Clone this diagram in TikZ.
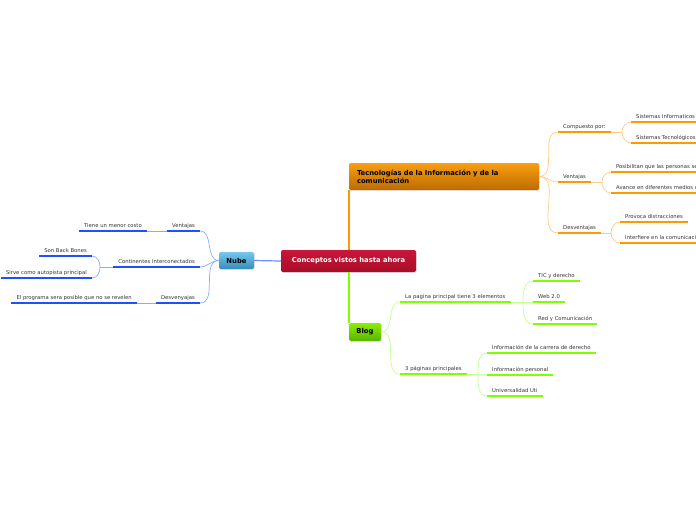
\documentclass[tikz,border=0pt]{standalone}
\usepackage{fontspec}
\setmainfont{DejaVu Sans}
\usetikzlibrary{positioning,shadows}

\definecolor{redtop}{HTML}{C8163A}
\definecolor{redbot}{HTML}{A80E28}
\definecolor{nubetop}{HTML}{74C8EE}
\definecolor{nubebot}{HTML}{3A8CB8}
\definecolor{tictop}{HTML}{F99E10}
\definecolor{ticbot}{HTML}{BC6C00}
\definecolor{blogtop}{HTML}{8AF000}
\definecolor{blogbot}{HTML}{58B400}
\definecolor{nubeline}{HTML}{1E50FF}
\definecolor{nubelite}{HTML}{8CAAFF}
\definecolor{ticline}{HTML}{FF9900}
\definecolor{ticlite}{HTML}{FFCC88}
\definecolor{blogline}{HTML}{80FF00}
\definecolor{bloglite}{HTML}{C4FF90}
\definecolor{textgray}{HTML}{333333}

\tikzset{
  box/.style={rounded corners=2pt, inner sep=0pt,
    font=\fontsize{6.8}{8}\selectfont\bfseries,
    drop shadow={opacity=0.3, shadow xshift=0.7pt, shadow yshift=-0.7pt}},
  topic/.style={font=\fontsize{5.3}{6}\selectfont, text=textgray,
    inner xsep=5pt, inner ysep=2.4pt, text height=3.9pt, text depth=1.1pt},
  ltopic/.style={topic, anchor=south east},
  rtopic/.style={topic, anchor=south west},
  nubebar/.style={draw=nubeline, line width=2.6pt},
  ticbar/.style={draw=ticline, line width=2.6pt},
  blogbar/.style={draw=blogline, line width=2.6pt},
  nubethin/.style={draw=nubelite, line width=0.7pt},
  ticthin/.style={draw=ticlite, line width=0.7pt},
  blogthin/.style={draw=bloglite, line width=0.7pt},
}

\begin{document}
\begin{tikzpicture}[x=1pt,y=1pt]
\clip (0,0) rectangle (696,-520);
% central topic
\node[box, top color=redtop, bottom color=redbot, text=white,
  minimum width=135pt, minimum height=22pt] (cpt) at (348.5,-261) {Conceptos vistos hasta ahora};

% nube
\node[box, top color=nubetop, bottom color=nubebot,
  minimum width=35pt, minimum height=17pt] (nube) at (236.5,-260.5) {Nube};
\node[ltopic] (nv) at (200,-231) {Ventajas};
\node[ltopic] (nvt) at (147,-231) {Tiene un menor costo};
\node[ltopic] (nc) at (200,-267) {Continentes Interconectados};
\node[ltopic] (ncb) at (92,-256) {Son Back Bones};
\node[ltopic] (ncs) at (92,-278) {Sirve como autopista principal};
\node[ltopic] (nd) at (200,-303) {Desvenyajas};
\node[ltopic] (ndp) at (137,-303) {El programa sera posible que no se revelen};
\coordinate (ncj) at (100,-267);

% tic
\node[box, top color=tictop, bottom color=ticbot, text width=174pt, align=left,
  inner xsep=8pt, minimum height=27pt] (tic) at (444,-176.5)
  {Tecnologías de la Información y de la\\comunicación};
\node[rtopic] (tc) at (558,-132) {Compuesto por:};
\node[rtopic] (tci) at (631,-122) {Sistemas Informaticos};
\node[rtopic] (tct) at (631,-143) {Sistemas Tecnológicos};
\node[rtopic] (tv) at (558,-182) {Ventajas};
\node[rtopic] (tvp) at (611,-172) {Posibilitan que las personas se comuniquen};
\node[rtopic] (tva) at (611,-193) {Avance en diferentes medios de comunicación};
\node[rtopic] (td) at (558,-233) {Desventajas};
\node[rtopic] (tdp) at (620,-222) {Provoca distracciones};
\node[rtopic] (tdi) at (620,-243) {Interfiere en la comunicación};
\coordinate (tcj) at (622,-132);
\coordinate (tvj) at (602,-182);
\coordinate (tdj) at (611,-233);

% blog
\node[box, top color=blogtop, bottom color=blogbot,
  minimum width=32pt, minimum height=18pt] (blog) at (365,-332) {Blog};
\node[rtopic] (bp) at (400,-302) {La pagina principal tiene 3 elementos};
\node[rtopic] (bpt) at (533,-281) {TIC y derecho};
\node[rtopic] (bpw) at (533,-302) {Web 2.0};
\node[rtopic] (bpr) at (533,-324) {Red y Comunicación};
\node[rtopic] (bt) at (400,-374) {3 páginas principales};
\node[rtopic] (btc) at (487,-353) {Información de la carrera de derecho};
\node[rtopic] (btp) at (487,-375) {Información personal};
\node[rtopic] (btu) at (487,-396) {Universalidad Uti};
\coordinate (bpj) at (523,-302);
\coordinate (btj) at (478,-374);

% main links
\draw[draw=nubelite!70!nubeline, line width=1.2pt] (cpt.west) -- (nube.east);
\draw[draw=ticline, line width=1.5pt] (tic.south west) ++(0.2,0) -- +(0,-60);
\draw[draw=blogline, line width=1.8pt] (blog.north west) ++(0.2,0) -- +(0,51);

% fans
\foreach \n in {nv,nc,nd} \draw[nubethin] (nube.west) to[out=180,in=0] (\n.south east);
\foreach \n in {tc,tv,td} \draw[ticthin] (tic.east) to[out=0,in=180] (\n.south west);
\foreach \n in {bp,bt} \draw[blogthin] (blog.east) to[out=0,in=180] (\n.south west);

\draw[nubethin] (nv.south west) -- (nvt.south east);
\draw[nubethin] (nd.south west) -- (ndp.south east);
\draw[nubethin] (nc.south west) -- (ncj);
\draw[nubethin] (ncj) to[out=90,in=0] (ncb.south east);
\draw[nubethin] (ncj) to[out=-90,in=0] (ncs.south east);

\draw[ticthin] (tc.south east) -- (tcj);
\draw[ticthin] (tcj) to[out=90,in=180] (tci.south west);
\draw[ticthin] (tcj) to[out=-90,in=180] (tct.south west);
\draw[ticthin] (tv.south east) -- (tvj);
\draw[ticthin] (tvj) to[out=90,in=180] (tvp.south west);
\draw[ticthin] (tvj) to[out=-90,in=180] (tva.south west);
\draw[ticthin] (td.south east) -- (tdj);
\draw[ticthin] (tdj) to[out=90,in=180] (tdp.south west);
\draw[ticthin] (tdj) to[out=-90,in=180] (tdi.south west);

\draw[blogthin] (bp.south east) -- (bpj);
\draw[blogthin] (bpj) to[out=90,in=180] (bpt.south west);
\draw[blogthin] (bpj) -- (bpw.south west);
\draw[blogthin] (bpj) to[out=-90,in=180] (bpr.south west);
\draw[blogthin] (bt.south east) -- (btj);
\draw[blogthin] (btj) to[out=90,in=180] (btc.south west);
\draw[blogthin] (btj) -- (btp.south west);
\draw[blogthin] (btj) to[out=-90,in=180] (btu.south west);

% underlines
\foreach \n in {nv,nvt,nc,ncb,ncs,nd,ndp} \draw[nubebar] (\n.south west) -- (\n.south east);
\foreach \n in {tc,tci,tct,tv,tvp,tva,td,tdp,tdi} \draw[ticbar] (\n.south west) -- (\n.south east);
\foreach \n in {bp,bpt,bpw,bpr,bt,btc,btp,btu} \draw[blogbar] (\n.south west) -- (\n.south east);
\end{tikzpicture}
\end{document}
